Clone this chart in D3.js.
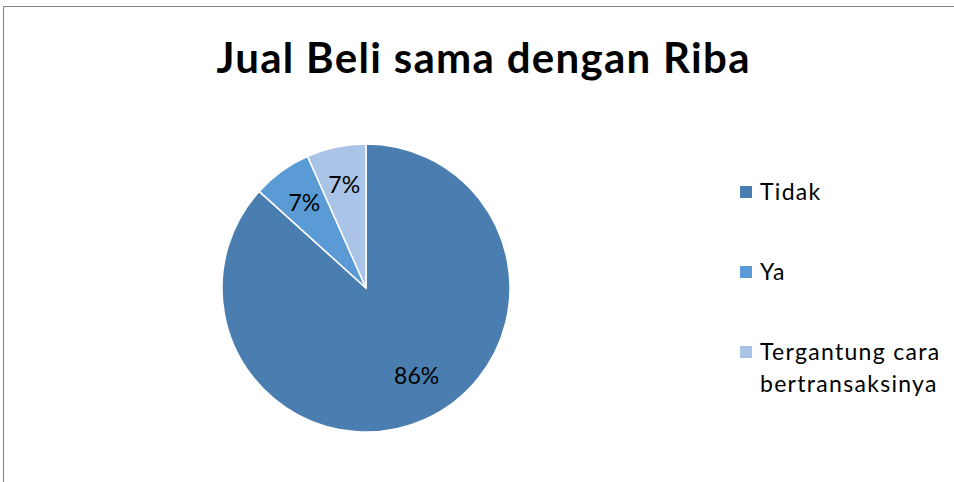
<!DOCTYPE html>
<html>
<head>
<meta charset="utf-8">
<script src="https://cdn.jsdelivr.net/npm/d3@7"></script>
<style>
  body { margin: 0; background: #fff; }
  text { font-family: "Lato", "Open Sans", sans-serif; fill: #000; }
</style>
</head>
<body>
<div class="chart"></div>
<script>
var width = 954,
    height = 482;

// data
var categories = ["Tidak", "Ya", "Tergantung cara bertransaksinya"];
var values = [86.7, 6.65, 6.65];
var valueLabels = ["86%", "7%", "7%"];
var legendLines = [["Tidak"], ["Ya"], ["Tergantung cara", "bertransaksinya"]];
var colors = ["#4A7EB1", "#5B9BD5", "#A9C4E6"];

var cx = 366, cy = 288, radius = 144;

var svg = d3.select(".chart")
  .append("svg")
    .attr("width", width)
    .attr("height", height);

// chart border
svg.append("rect")
  .attr("x", 3.5)
  .attr("y", 6.5)
  .attr("width", 1000)
  .attr("height", 600)
  .attr("fill", "none")
  .attr("stroke", "#868686")
  .attr("stroke-width", 1);

// title
svg.append("text")
  .attr("x", 483)
  .attr("y", 73)
  .attr("text-anchor", "middle")
  .attr("textLength", 533)
  .attr("lengthAdjust", "spacing")
  .style("font-size", "42px")
  .style("font-weight", "700")
  .text("Jual Beli sama dengan Riba");

var color = d3.scaleOrdinal()
  .domain(categories)
  .range(colors);

var pie = d3.pie()
  .sort(null)
  .value(function(d) { return d.value; });

var data_ready = pie(categories.map(function(c, i) {
  return { label: c, value: values[i], text: valueLabels[i] };
}));

var arc = d3.arc()
  .innerRadius(0)
  .outerRadius(radius);

var labelArc = d3.arc()
  .innerRadius(radius * 0.73)
  .outerRadius(radius * 0.73);

var g = svg.append("g")
  .attr("transform", "translate(" + cx + "," + cy + ")");

g.selectAll("path")
  .data(data_ready)
  .enter()
  .append("path")
  .attr("d", arc)
  .attr("fill", function(d) { return color(d.data.label); })
  .attr("stroke", "white")
  .style("stroke-width", "1.5px");

// big slice label sits a bit off its mid-angle, like the original
g.selectAll(".pct")
  .data(data_ready)
  .enter()
  .append("text")
  .attr("class", "pct")
  .attr("transform", function(d, i) {
    var c = labelArc.centroid(d);
    if (i === 0) { c = [c[0] + 8, c[1] - 8]; }
    return "translate(" + c + ")";
  })
  .attr("dy", "0.36em")
  .style("text-anchor", "middle")
  .style("font-size", "23px")
  .text(function(d) { return d.data.text; });

// legend
var legendY = [192, 272, 352];
var legend = svg.selectAll(".legend")
  .data(categories)
  .enter()
  .append("g")
  .attr("class", "legend")
  .attr("transform", function(d, i) { return "translate(740," + legendY[i] + ")"; });

legend.append("rect")
  .attr("x", 0)
  .attr("y", -6)
  .attr("width", 12)
  .attr("height", 12)
  .attr("fill", function(d) { return color(d); });

legend.append("text")
  .attr("y", 0)
  .style("font-size", "23px")
  .style("letter-spacing", "1.3px")
  .selectAll("tspan")
  .data(function(d, i) { return legendLines[i]; })
  .enter()
  .append("tspan")
  .attr("x", 20)
  .attr("dy", function(d, i) { return i === 0 ? "0.35em" : "1.39em"; })
  .text(function(d) { return d; });
</script>
</body>
</html>
